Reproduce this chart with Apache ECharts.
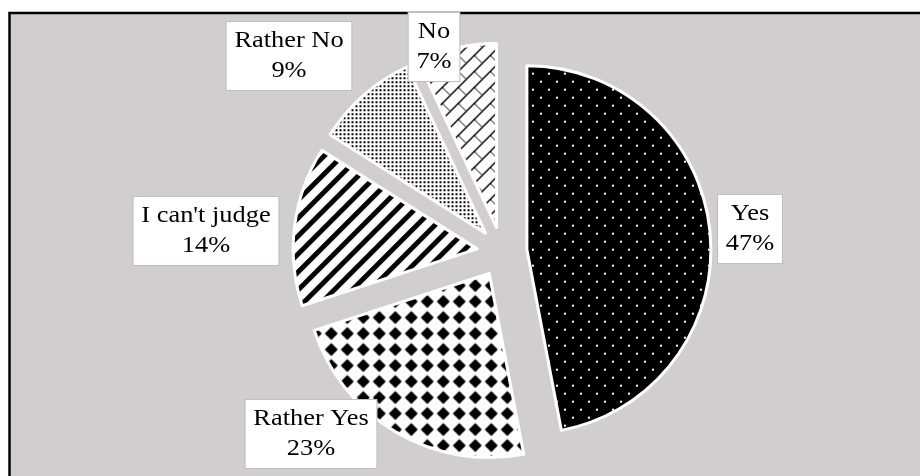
<!DOCTYPE html>
<html>
<head>
<meta charset="utf-8">
<script src="https://cdn.jsdelivr.net/npm/echarts@6/dist/echarts.min.js"></script>
<style>
  html, body { margin: 0; padding: 0; background: #ffffff; }
  #chart { width: 920px; height: 476px; }
</style>
</head>
<body>
<div id="chart"></div>
<script>
// Survey answers and their shares (percent)
const categories = ['Yes', 'Rather Yes', "I can't judge", 'Rather No', 'No'];
const shares = [47, 23, 14, 9, 7];

// Where each label box sits (centre point, px)
const labelAnchors = [
  [750, 229],
  [311, 434],
  [206, 231],
  [289, 56],
  [434, 47]
];

// Build a repeating fill from a small canvas tile
function tile(w, h, draw) {
  const c = document.createElement('canvas');
  c.width = w; c.height = h;
  const g = c.getContext('2d');
  draw(g, w, h);
  return { image: c, repeat: 'repeat' };
}
function pixels(g, w, h, test) {
  g.fillStyle = '#ffffff';
  g.fillRect(0, 0, w, h);
  g.fillStyle = '#000000';
  for (let y = 0; y < h; y++) {
    for (let x = 0; x < w; x++) {
      if (test(x, y)) g.fillRect(x, y, 1, 1);
    }
  }
}

// white dots on black
const dotsOnBlack = tile(16, 16, (g) => {
  g.fillStyle = '#000000'; g.fillRect(0, 0, 16, 16);
  g.fillStyle = '#ffffff';
  g.fillRect(3, 3, 2, 2);
  g.fillRect(11, 11, 2, 2);
});
// solid diamonds on white
const diamonds = tile(16, 16, (g) => {
  g.fillStyle = '#ffffff'; g.fillRect(0, 0, 16, 16);
  g.fillStyle = '#000000';
  g.beginPath();
  g.moveTo(8, 1.5); g.lineTo(14.5, 8); g.lineTo(8, 14.5); g.lineTo(1.5, 8);
  g.closePath(); g.fill();
  g.fillRect(6, 3, 4, 10);
  g.fillRect(3, 6, 10, 4);
});
// wide upward diagonal stripes
const stripes = tile(18, 18, (g, w, h) => pixels(g, w, h, (x, y) => ((x + y) % 18) < 7));
// fine dots
const fineDots = tile(4, 4, (g, w, h) => pixels(g, w, h, (x, y) => x < 2 && y < 2));
// diagonal brick
const brick = tile(16, 16, (g, w, h) => pixels(g, w, h, (x, y) => {
  const s = (x + y) % 16;
  if (s === 14 || s === 15) return true;
  return x < 8 && y < 8 && x === y;
}));

const fills = [dotsOnBlack, diamonds, stripes, fineDots, brick];

// Label boxes: name on the first line, share on the second
const labelBoxes = categories.map((name, i) => ({
  type: 'text',
  z: 100,
  silent: true,
  x: labelAnchors[i][0],
  y: labelAnchors[i][1],
  scaleX: 1.1,
  style: {
    text: name + '\n' + shares[i] + '%',
    font: '24px "Liberation Serif", "Times New Roman", serif',
    fill: '#000000',
    align: 'center',
    verticalAlign: 'middle',
    lineHeight: 30,
    backgroundColor: '#ffffff',
    borderColor: '#bfbfbf',
    borderWidth: 1,
    padding: [4, 7]
  }
}));

const chart = echarts.init(document.getElementById('chart'), null, { renderer: 'canvas' });

const option = {
  animation: false,
  backgroundColor: '#ffffff',
  graphic: [{
    type: 'rect',
    z: -10,
    silent: true,
    shape: { x: 9.5, y: 13, width: 1000, height: 1000 },
    style: { fill: '#d0cece', stroke: '#000000', lineWidth: 2.5 }
  }].concat(labelBoxes),
  series: [{
    type: 'pie',
    center: [502, 252],
    radius: 184,
    startAngle: 90,
    clockwise: true,
    selectedMode: 'multiple',
    selectedOffset: 25,
    emphasis: { disabled: true },
    itemStyle: { borderColor: '#ffffff', borderWidth: 3 },
    label: { show: false },
    labelLine: { show: false },
    data: categories.map((name, i) => ({
      name: name,
      value: shares[i],
      selected: true,
      itemStyle: { color: fills[i] }
    }))
  }]
};

chart.setOption(option);
</script>
</body>
</html>
